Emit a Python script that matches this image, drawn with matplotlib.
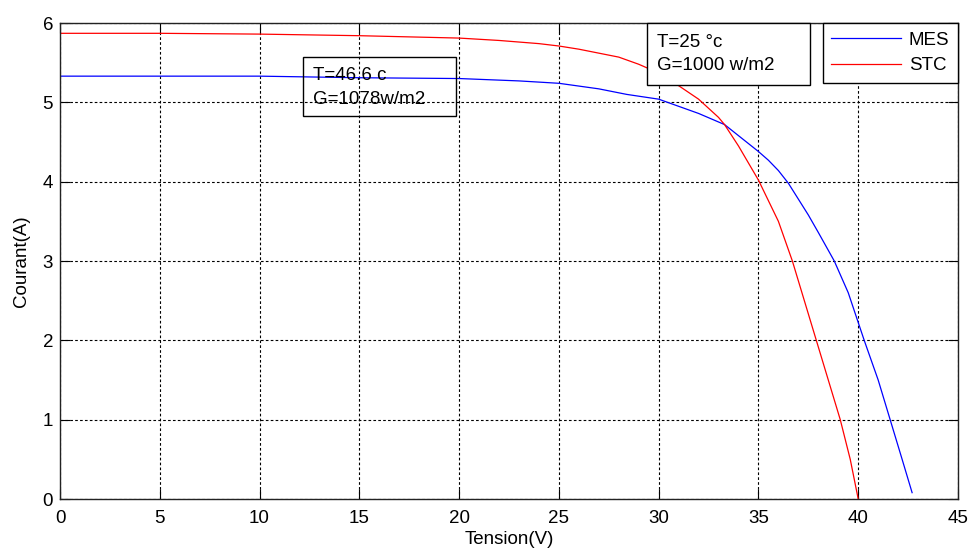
import numpy as np
import matplotlib.pyplot as plt
from matplotlib.patches import Rectangle

plt.rcParams['font.family'] = ['Liberation Sans', 'DejaVu Sans']

# courbe mesurée (MES)
mes_v = [0, 5, 10, 15, 20, 23, 25, 27, 28.4, 30, 31, 32, 33.3, 34, 35, 35.5, 36,
         36.5, 37, 37.5, 38, 38.8, 39.5, 40.3, 41.0, 41.6, 42.2, 42.7]
mes_i = [5.33, 5.33, 5.33, 5.31, 5.30, 5.27, 5.24, 5.17, 5.10, 5.04, 4.95, 4.86,
         4.72, 4.58, 4.38, 4.27, 4.14, 3.98, 3.78, 3.58, 3.36, 3.00, 2.60, 2.00,
         1.50, 1.00, 0.50, 0.08]

# courbe STC
stc_v = [0, 5, 10, 15, 20, 22, 24, 25, 26, 27, 28, 29, 30, 31, 32, 33, 33.3, 34,
         35, 36, 36.7, 37.3, 37.9, 38.5, 39.1, 39.6, 40.0]
stc_i = [5.87, 5.87, 5.86, 5.84, 5.81, 5.78, 5.74, 5.71, 5.67, 5.62, 5.57, 5.48,
         5.37, 5.21, 5.04, 4.81, 4.72, 4.45, 4.02, 3.50, 3.00, 2.50, 2.00, 1.50,
         1.00, 0.50, 0.00]

x_ticks = [0, 5, 10, 15, 20, 25, 30, 35, 40, 45]
y_ticks = [0, 1, 2, 3, 4, 5, 6]

fs = 13.5

fig = plt.figure(figsize=(9.71, 5.52), dpi=100)
ax = fig.add_axes([60 / 971, 1 - 499 / 552, 898 / 971, 476 / 552])

ax.plot(mes_v, mes_i, color='#0000ff', lw=0.9, label='MES')
ax.plot(stc_v, stc_i, color='#ff0000', lw=0.9, label='STC')

ax.set_xlim(0, 45)
ax.set_ylim(0, 6)
ax.set_xticks(x_ticks)
ax.set_yticks(y_ticks)
ax.grid(True, color='black', lw=0.8, linestyle=(0, (2.4, 2.0)))
ax.tick_params(direction='in', length=7, width=0.8, top=True, right=True,
               labelsize=fs)
ax.tick_params(axis='x', pad=8)
ax.tick_params(axis='y', pad=5)
for s in ax.spines.values():
    s.set_color('#222222')
    s.set_linewidth(1.0)

ax.set_xlabel('Tension(V)', fontsize=fs, labelpad=3)
ax.set_ylabel('Courant(A)', fontsize=fs, labelpad=9)

# boites de texte
ax.add_patch(Rectangle((12.17, 4.83), 7.66, 0.74, fill=False, ec='black',
                       lw=1.0, zorder=4))
ax.text(12.67, 5.34, 'T=46.6 c', fontsize=fs, va='center', ha='left', zorder=5)
ax.text(12.67, 5.04, 'G=1078w/m2', fontsize=fs, va='center', ha='left', zorder=5)

ax.add_patch(Rectangle((29.4, 5.22), 8.2, 0.78, fill=True, fc='white',
                       ec='black', lw=1.0, zorder=4, clip_on=False))
ax.text(29.9, 5.75, 'T=25 °c', fontsize=fs, va='center', ha='left', zorder=5)
ax.text(29.9, 5.47, 'G=1000 w/m2', fontsize=fs, va='center', ha='left', zorder=5)

leg = ax.legend(loc='upper right', bbox_to_anchor=(1, 1), borderaxespad=0,
                fancybox=False, framealpha=1, edgecolor='black', fontsize=fs,
                handlelength=3.75, handletextpad=0.4, labelspacing=0.45,
                borderpad=0.45)
leg.get_frame().set_linewidth(1.0)

fig.savefig('out.png', dpi=100)
